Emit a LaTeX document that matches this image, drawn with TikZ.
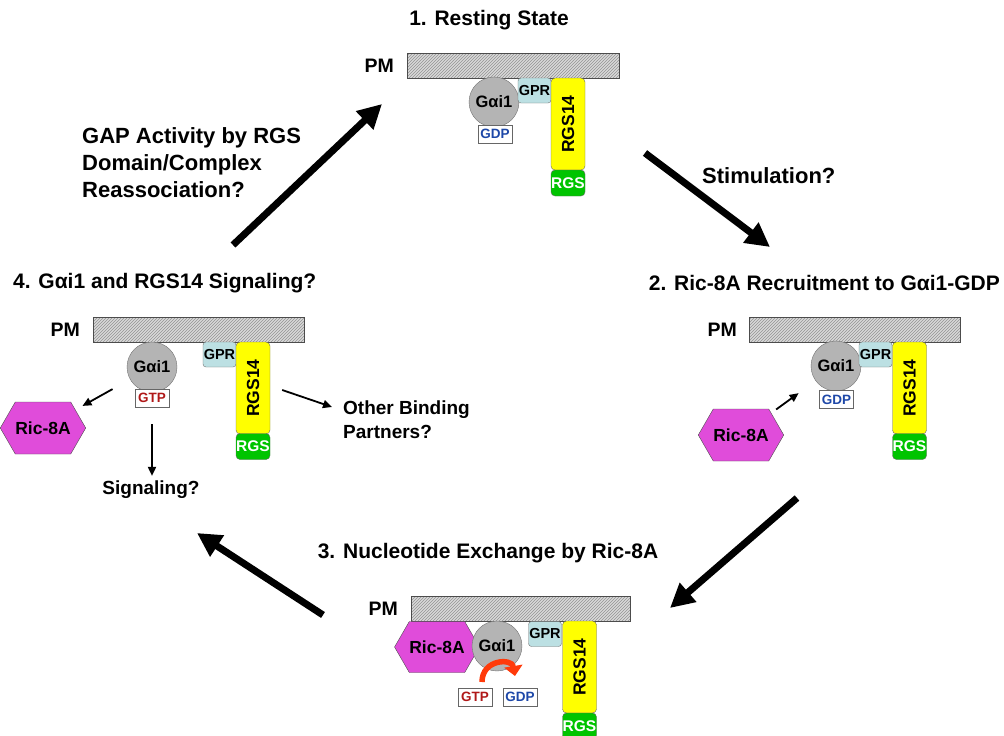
\documentclass[tikz,border=0pt]{standalone}
\usepackage{fontspec}
\setmainfont{Liberation Sans}
\usepackage{tikz}
\usetikzlibrary{arrows.meta, calc, positioning, patterns, shapes.symbols}

\definecolor{gaigray}{HTML}{B4B4B4}
\definecolor{gprblue}{HTML}{BCE0E3}
\definecolor{rgsyellow}{HTML}{FFFF00}
\definecolor{rgsgreen}{HTML}{00C400}
\definecolor{ricpink}{HTML}{E04CDA}
\definecolor{gdpblue}{HTML}{1E48A8}
\definecolor{gtpred}{HTML}{B01818}
\definecolor{arcred}{HTML}{FF3A0A}

\tikzset{
  membrane/.style={draw=black!70, line width=0.8pt, preaction={fill=gray!30},
    pattern=north east lines, pattern color=gray!85,
    minimum width=212pt, minimum height=25pt, inner sep=0pt, anchor=north west},
  pmlabel/.style={font=\bfseries\fontsize{19.5}{22}\selectfont, inner sep=0pt},
  galpha/.style={circle, draw=black!55, fill=gaigray, minimum size=50pt, inner sep=0pt,
    font=\bfseries\fontsize{16.5}{19}\selectfont},
  gpr/.style={rectangle, rounded corners=3pt, draw=black!55, fill=gprblue,
    minimum width=33pt, minimum height=25pt, inner sep=0pt,
    font=\bfseries\fontsize{14.5}{17}\selectfont},
  rgsbody/.style={rectangle, rounded corners=4pt, draw=black!60, fill=rgsyellow,
    minimum width=34pt, minimum height=92pt, inner sep=0pt,
    font=\bfseries\fontsize{17.5}{20}\selectfont},
  rgsbox/.style={rectangle, rounded corners=4pt, draw=black!60, fill=rgsgreen, text=white,
    minimum width=34pt, minimum height=26pt, inner sep=0pt,
    font=\bfseries\fontsize{15.5}{18}\selectfont},
  nucl/.style={draw=black!60, fill=white, minimum width=34pt, minimum height=18pt,
    inner sep=0pt, font=\bfseries\fontsize{13.5}{15}\selectfont},
  ric/.style={signal, signal to=east and west, signal pointer angle=120,
    draw=black!70, fill=ricpink, minimum width=54pt, minimum height=52pt, inner sep=0pt,
    font=\bfseries\fontsize{17.5}{20}\selectfont},
  bigarrow/.style={line width=7pt, -{Triangle[length=24pt,width=24pt]}},
  thinarrow/.style={line width=1.8pt, -{Triangle[length=9pt,width=8pt]}},
  caption/.style={font=\bfseries\fontsize{21}{25}\selectfont, inner sep=0pt},
  note/.style={font=\bfseries\fontsize{22}{27}\selectfont, align=left, inner sep=0pt},
  smallnote/.style={font=\bfseries\fontsize{19}{24}\selectfont, align=left, inner sep=0pt}
}

\begin{document}
\begin{tikzpicture}[x=1pt, y=-1pt]
    \clip (0,0) rectangle (1004,736);

    % stage captions
    \node[caption] (t1) at (489,20) {1. Resting State};
    \node[caption, anchor=east] (t2) at (1000,283) {2. Ric-8A Recruitment to Gαi1-GDP};
    \node[caption] (t3) at (488,553) {3. Nucleotide Exchange by Ric-8A};
    \node[caption, anchor=west] (t4) at (13,283) {4. Gαi1 and RGS14 Signaling?};
    \node[note, anchor=west] (stim) at (702,176) {Stimulation?};
    \node[note, anchor=west] (gap) at (82,163) {GAP Activity by RGS\\Domain/Complex\\Reassociation?};

    % 1. resting state
    \begin{scope}[shift={(407,53)}]
        \node[membrane] (pm1) at (0,0) {};
        \node[pmlabel, left=13pt of pm1] (pml1) {PM};
        \node[galpha] (ga1) at (87,49) {Gαi1};
        \node[nucl, text=gdpblue] (gdp1) at (88,81) {GDP};
        \node[gpr] (gpr1) at (127.5,37.5) {GPR};
        \node[rgsbody] (rb1) at (161,71) {\rotatebox{90}{RGS14}};
        \node[rgsbox] (rd1) at (161,130) {RGS};
    \end{scope}

    % 2. Ric-8A comes in
    \begin{scope}[shift={(749,317)}]
        \node[membrane, minimum width=211pt] (pm2) at (0,0) {};
        \node[pmlabel, left=12pt of pm2] (pml2) {PM};
        \node[galpha] (ga2) at (87,49) {Gαi1};
        \node[nucl, text=gdpblue] (gdp2) at (87.5,82.5) {GDP};
        \node[gpr] (gpr2) at (126.5,37.5) {GPR};
        \node[rgsbody] (rb2) at (160.5,71) {\rotatebox{90}{RGS14}};
        \node[rgsbox] (rd2) at (160.5,129.5) {RGS};
        \node[ric] (ric2) at (-8,118) {Ric-8A};
        \draw[thinarrow, shorten <=6pt, shorten >=21pt] (ric2) -- (ga2);
    \end{scope}

    % 3. exchange
    \begin{scope}[shift={(411,596)}]
        \node[membrane, minimum width=219pt] (pm3) at (0,0) {};
        \node[pmlabel, left=13pt of pm3] (pml3) {PM};
        \node[ric, minimum width=53pt, minimum height=51pt] (ric3) at (26,51) {Ric-8A};
        \node[galpha] (ga3) at (86,50) {Gαi1};
        \node[nucl, text=gtpred] (gtp3) at (64,101) {GTP};
        \node[nucl, text=gdpblue] (gdp3) at (109,101) {GDP};
        \node[gpr] (gpr3) at (134,38) {GPR};
        \node[rgsbody] (rb3) at (168.5,71) {\rotatebox{90}{RGS14}};
        \node[rgsbox] (rd3) at (168.5,130) {RGS};
        \draw[arcred, line width=5.5pt, -{Triangle[length=10pt,width=18pt]}]
            (71,86) .. controls (71,63) and (101,62) .. (104,80);
    \end{scope}

    % 4. signaling
    \begin{scope}[shift={(93,317)}]
        \node[membrane, minimum width=211pt] (pm4) at (0,0) {};
        \node[pmlabel, left=13pt of pm4] (pml4) {PM};
        \node[galpha] (ga4) at (59,50) {Gαi1};
        \node[nucl, text=gtpred] (gtp4) at (59,81) {GTP};
        \node[gpr] (gpr4) at (126.5,37.5) {GPR};
        \node[rgsbody] (rb4) at (160,71) {\rotatebox{90}{RGS14}};
        \node[rgsbox] (rd4) at (160,129.5) {RGS};
        \node[ric] (ric4) at (-50,111) {Ric-8A};
        \node[smallnote] (sig4) at (58,173) {Signaling?};
        \node[smallnote, anchor=west] (other4) at (250,103) {Other Binding\\Partners?};
        \draw[thinarrow, shorten <=20pt, shorten >=8pt] (ga4) -- (ric4);
        \draw[thinarrow, shorten <=17pt, shorten >=5pt] (gtp4.south) -- (sig4.north -| gtp4.south);
        \draw[thinarrow] ([shift={(12,2)}]rb4.east) -- ([shift={(-11,-13)}]other4.west);
    \end{scope}

    % cycle arrows
    \coordinate (a41) at (233,245);
    \coordinate (a14) at (382,104);
    \coordinate (a12) at (645,153);
    \coordinate (a21) at (770,247);
    \coordinate (a23) at (797,498);
    \coordinate (a32) at (670,608);
    \coordinate (a34) at (323,615);
    \coordinate (a43) at (197,533);
    \draw[bigarrow] (a41) -- (a14);
    \draw[bigarrow] (a12) -- (a21);
    \draw[bigarrow] (a23) -- (a32);
    \draw[bigarrow] (a34) -- (a43);
\end{tikzpicture}
\end{document}
